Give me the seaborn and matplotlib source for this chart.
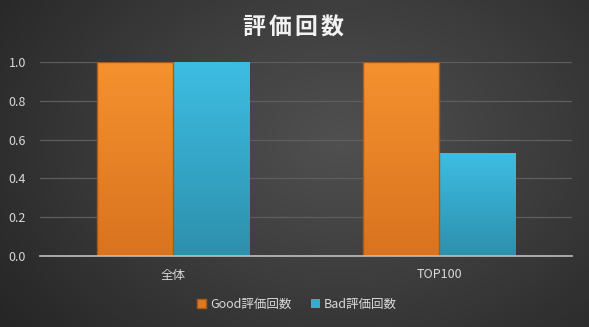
import numpy as np
import pandas as pd
import matplotlib
matplotlib.use("Agg")
import matplotlib.pyplot as plt
import seaborn as sns
from matplotlib.colors import LinearSegmentedColormap

categories = ["全体", "TOP100"]
series_names = ["Good評価回数", "Bad評価回数"]
good_values = [1.0, 1.0]
bad_values = [1.0, 0.53]
yticks = [0.0, 0.2, 0.4, 0.6, 0.8, 1.0]

df = pd.DataFrame({
    "cat": categories * 2,
    "series": [series_names[0]] * 2 + [series_names[1]] * 2,
    "value": good_values + bad_values,
})

sns.set_theme(style="white")
plt.rcParams["font.family"] = ["Noto Sans CJK JP", "DejaVu Sans"]

fig = plt.figure(figsize=(5.89, 3.27), dpi=100)

# radial gradient background
bg = fig.add_axes([0, 0, 1, 1], zorder=-10)
yy, xx = np.mgrid[0:327, 0:589]
r = np.sqrt(((xx - 340) / 420.0) ** 2 + ((yy - 140) / 300.0) ** 2)
r = np.clip(r, 0, 1)
bgcmap = LinearSegmentedColormap.from_list("bg", ["#505050", "#3c3c3c", "#262626"])
bg.imshow(r, cmap=bgcmap, aspect="auto", extent=[0, 1, 0, 1], vmin=0, vmax=1)
bg.axis("off")

ax = fig.add_axes([40 / 589, 1 - 256 / 327, 532 / 589, 194 / 327])
ax.patch.set_alpha(0)

colors = {"Good評価回数": "#ec8529", "Bad評価回数": "#37abd0"}
sns.barplot(data=df, x="cat", y="value", hue="series", palette=colors,
            width=0.575, ax=ax, legend=False, saturation=1)

grads = [("#f6912f", "#d9731f"), ("#3dbde2", "#2d90ad")]
for i, cont in enumerate(ax.containers):
    top, bot = grads[i]
    cmap = LinearSegmentedColormap.from_list("g%d" % i, [bot, top])
    for p in cont.patches:
        x0, y0 = p.get_x(), p.get_y()
        w, h = p.get_width(), p.get_height()
        im = ax.imshow(np.linspace(0, 1, 100).reshape(-1, 1), cmap=cmap, origin="lower",
                       extent=[x0, x0 + w, y0, y0 + h], aspect="auto", zorder=2)
        im.set_clip_path(p)
        if i == 0:
            p.set_edgecolor("#a95a18")
            p.set_linewidth(1.0)
            p.set_facecolor("none")
            p.set_zorder(3)
        else:
            p.set_edgecolor("none")

ax.set_xlim(-0.5, 1.5)
ax.set_ylim(0, 1.0)
ax.set_yticks(yticks)
ax.set_yticklabels([f"{v:.1f}" for v in yticks])
ax.yaxis.grid(True, color="#5e5e5e", linewidth=0.9)
ax.set_axisbelow(True)
for s in ["top", "right", "left"]:
    ax.spines[s].set_visible(False)
ax.spines["bottom"].set_color("#bfbfbf")
ax.spines["bottom"].set_linewidth(1.2)
ax.spines["bottom"].set_zorder(5)
ax.tick_params(axis="both", length=0, colors="#d9d9d9", labelsize=9)
ax.tick_params(axis="x", pad=9)
ax.tick_params(axis="y", pad=10)
ax.set_xlabel("")
ax.set_ylabel("")

title_chars = "評価回数"
for k, ch in enumerate(title_chars):
    fig.text((254 + k * 26) / 589, 1 - 28 / 327, ch, ha="center", va="center",
             fontsize=16.5, fontweight="bold", color="#f2f2f2")

from matplotlib.patches import Patch
handles = [Patch(facecolor="#e07a22", edgecolor="#a95a18"),
           Patch(facecolor="#37abd0", edgecolor="none")]
leg = fig.legend(handles, series_names, loc="center", bbox_to_anchor=(297 / 589, 1 - 304 / 327),
                 ncol=2, frameon=False, fontsize=9, handlelength=0.7, handleheight=0.7,
                 handletextpad=0.3, columnspacing=1.6)
for t in leg.get_texts():
    t.set_color("#d9d9d9")

fig.savefig("out.png", dpi=100)
